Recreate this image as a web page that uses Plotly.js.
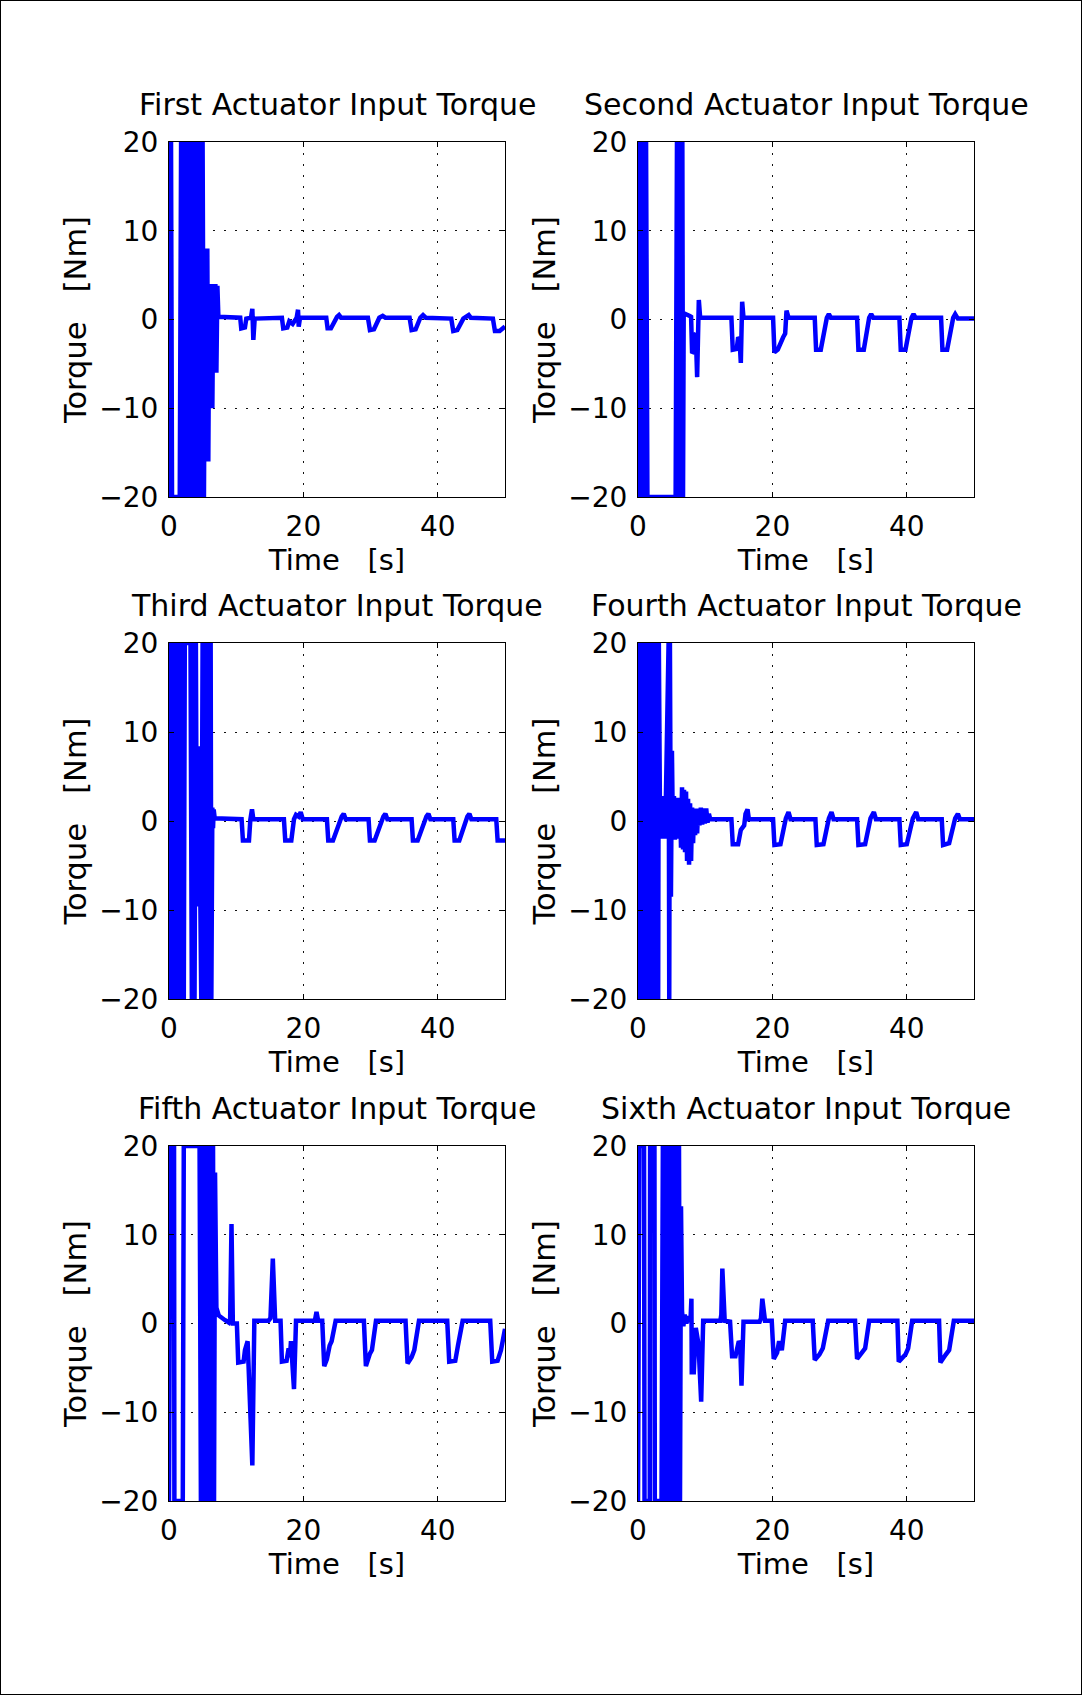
<!DOCTYPE html>
<html><head><meta charset="utf-8">
<script src="https://cdn.plot.ly/plotly-3.0.1.min.js"></script>
<style>html,body{margin:0;padding:0;background:#fff}#chart{width:1082px;height:1695px}</style>
</head><body><div id="chart"></div>
<script>
// ---- data (time in s, torque in Nm) ----
const t1 = [0,0.15,0.3,0.45,1.6,1.8,2.0,2.2,2.4,2.6,2.8,3.0,3.2,3.4,3.6,3.8,4.0,4.2,4.4,4.6,4.8,5.0,5.2,5.4,5.55,5.7,5.85,6.0,6.15,6.3,6.45,6.6,6.75,6.9,7.05,7.2,7.35,10.6,10.75,11.3,11.5,12.2,12.4,12.55,12.75,16.8,17.0,17.6,17.9,18.4,19.0,19.2,19.3,19.5,23.4,23.6,24.1,25.0,25.3,25.6,29.6,29.9,30.5,31.3,31.8,32.2,35.8,36.1,36.7,37.4,37.8,38.2,42.0,42.3,42.9,43.8,44.6,44.9,48.2,48.5,49.2,50];
const q1 = [20,-20,20,-20,-20,20,-20,20,-20,20,-20,20,-20,20,-20,20,-20,20,-20,20,-20,20,-20,8,-16,8,-16,4,-10,4,-10,4,-6,4,-6,3.8,0.3,0.2,-1.0,-0.9,0.1,0.2,1.2,-2.3,0.1,0.2,-1.0,-0.9,-0.2,-0.5,0.2,1.1,-0.8,0.2,0.2,-1.0,-1.0,0.3,0.5,0.2,0.2,-1.2,-1.1,0.2,0.4,0.2,0.2,-1.2,-1.1,0.2,0.5,0.2,0.1,-1.3,-1.2,0.1,0.5,0.2,0.1,-1.3,-1.3,-0.8];

const t2 = [0,0.2,0.4,0.6,0.8,1.0,1.2,1.4,5.6,5.8,6.0,6.2,6.4,6.6,6.7,6.8,7.7,7.9,8.05,8.3,8.45,8.6,8.8,9.05,9.25,13.9,14.1,14.7,14.9,15.1,15.3,15.5,15.7,20.1,20.3,20.8,21.6,21.9,22.1,22.4,26.3,26.5,27.2,28.1,28.4,28.7,32.6,32.8,33.6,34.4,34.7,35.0,38.9,39.1,39.8,40.7,41.0,41.3,45.1,45.3,46.0,46.9,47.2,47.6,50];
const q2 = [20,-20,20,-20,20,-20,20,-20,-20,20,-20,20,-20,20,-20,0.7,0.4,0.3,-3.8,-3.6,-1.7,-1.6,-6.5,2.2,0.2,0.2,-3.4,-3.3,-2.0,-2.2,-4.9,2.0,0.2,0.2,-3.7,-3.4,-2.0,-1.6,1.0,0.2,0.2,-3.4,-3.4,0.2,0.6,0.2,0.2,-3.4,-3.4,0.2,0.6,0.2,0.2,-3.4,-3.4,0.2,0.6,0.2,0.2,-3.4,-3.4,0.2,0.6,0.1,0.1];

const t3 = [0,0.2,0.4,0.6,0.8,1.0,1.2,1.4,1.6,1.8,2.0,2.2,2.35,3.2,3.4,3.6,3.8,4.0,4.15,4.45,4.8,5.0,5.2,5.4,5.6,5.8,6.0,6.2,6.3,6.45,6.55,6.65,6.8,10.8,11.0,11.9,12.1,12.35,12.55,12.7,17.1,17.3,18.2,18.6,18.9,19.3,19.6,19.9,23.5,23.7,24.4,25.7,26.0,26.3,29.7,29.9,30.6,31.9,32.2,32.5,36.1,36.3,37.0,38.3,38.6,38.9,42.3,42.5,43.2,44.4,44.7,45.0,48.7,48.9,50];
const q3 = [20,-20,20,-20,20,-20,20,-20,20,-20,20,-20,20,20,-20,20,-20,20,-9.6,8.4,-20,20,-20,20,-20,20,-20,20,-20,1.5,-0.8,1.3,0.3,0.2,-2.2,-2.2,0.1,1.3,0.2,0.2,0.2,-2.2,-2.2,0.2,0.7,0.5,1.0,0.2,0.2,-2.2,-2.2,0.5,0.8,0.2,0.2,-2.2,-2.2,0.5,0.8,0.2,0.2,-2.2,-2.2,0.5,0.8,0.2,0.2,-2.2,-2.2,0.5,0.8,0.2,0.2,-2.2,-2.2];

const t4 = [0,0.2,0.4,0.6,0.8,1.0,1.2,1.4,1.6,1.8,2.0,2.2,2.4,2.6,2.8,3.0,3.1,3.25,3.4,3.55,3.7,3.85,4.0,4.15,4.55,4.65,4.75,4.9,5.05,5.2,5.35,5.5,5.65,5.8,5.95,6.1,6.25,6.4,6.55,6.7,6.85,7.0,7.15,7.3,7.45,7.6,7.75,7.9,8.05,8.2,8.35,8.5,8.65,8.8,8.95,9.15,9.35,9.55,9.75,9.95,10.15,10.35,10.55,10.75,13.9,14.1,14.9,15.3,15.8,16.0,16.3,16.5,20.1,20.3,21.2,22.0,22.4,22.7,26.4,26.6,27.6,28.4,28.8,29.1,32.6,32.8,33.8,34.6,35.1,35.4,38.9,39.1,40.0,40.9,41.4,41.7,45.2,45.4,46.3,47.2,47.6,47.9,50];
const q4 = [20,-20,20,-20,20,-20,20,-20,20,-20,20,-20,20,-20,20,-20,20,2.8,-2.0,2.6,-1.8,2.8,-2.0,2.6,20,-20,20,-8.5,7.9,-2.0,2.8,-2.1,2.5,-2.0,2.6,-1.5,2.0,-3.0,3.8,-3.2,3.5,-3.5,3.3,-4.5,2.5,-4.9,2.0,-4.5,1.5,-2.5,1.4,-1.6,1.2,-1.4,1.4,-0.5,1.5,-0.4,1.4,-0.3,1.4,-0.2,0.8,0.2,0.2,-2.6,-2.6,-1.0,-0.5,0.8,1.3,0.2,0.2,-2.7,-2.6,0.3,1.0,0.2,0.2,-2.7,-2.6,0.3,1.0,0.2,0.2,-2.7,-2.6,0.3,1.0,0.2,0.2,-2.7,-2.6,0.3,1.0,0.2,0.2,-2.7,-2.5,0.3,0.8,0.2,0.2];

const t5 = [0,0.2,0.75,0.8,2.05,2.2,4.55,4.75,4.95,5.15,5.35,5.55,5.75,5.95,6.15,6.35,6.55,6.7,6.85,7.05,7.4,8.3,8.9,9.1,9.3,9.5,10.1,10.3,11.1,11.3,11.7,12.4,12.7,14.8,15.1,15.45,15.8,16.6,16.8,17.5,17.8,18.0,18.15,18.6,18.9,21.7,21.95,22.2,22.8,23.1,23.5,23.9,24.2,24.8,29.0,29.3,29.9,30.2,30.8,35.2,35.5,36.1,36.5,37.2,41.4,41.7,42.6,43.0,43.7,47.8,48.1,48.9,49.4,50];
const q5 = [-20,20,20,-20,-20,20,20,-20,20,-20,20,-20,20,-20,20,-20,20,-20,17,1.8,0.9,0.4,0.1,0.5,11.2,0.0,0.0,-4.4,-4.3,-3.0,-2.0,-16.0,0.3,0.3,0.6,7.3,0.3,0.3,-4.3,-4.2,-2.8,-3.8,-2.0,-7.4,0.3,0.3,1.3,0.3,0.3,-4.8,-4.0,-2.5,-2.0,0.3,0.3,-4.8,-3.4,-3.0,0.3,0.3,-4.5,-3.8,-3.0,0.3,0.3,-4.3,-4.2,-2.5,0.3,0.3,-4.3,-4.2,-3.0,-0.6];

const t6 = [0,0.2,0.9,0.97,1.75,1.8,2.45,2.5,3.5,3.7,3.9,4.1,4.3,4.5,4.7,4.9,5.1,5.3,5.5,5.7,5.9,6.1,6.25,6.4,6.55,6.75,6.95,7.2,7.5,7.8,7.95,8.0,8.3,8.6,9.0,9.4,9.7,12.25,12.4,12.55,12.9,13.7,14.0,14.5,15.0,15.2,15.4,15.7,18.1,18.3,18.5,18.9,19.9,20.2,20.7,21.0,21.4,21.9,26.0,26.3,27.0,27.5,28.3,32.3,32.6,33.4,33.8,34.4,38.6,38.8,39.8,40.2,40.8,44.8,45.0,45.8,46.3,47.0,50];
const q6 = [-20,20,20,-20,-20,20,20,-20,-20,20,-20,20,-20,20,-20,20,-20,20,-20,20,-20,20,-20,13.2,1.4,-0.3,1.0,0.0,0.8,0.2,2.8,-5.5,-5.5,-0.5,-2.3,-8.8,0.3,0.3,1.0,6.2,0.3,0.2,-3.7,-3.7,-2.0,-2.2,-7.0,0.2,0.2,0.6,2.8,0.3,0.3,-4.0,-3.3,-2.0,-3.0,0.3,0.3,-4.1,-3.5,-2.8,0.3,0.3,-4.0,-3.2,-2.8,0.3,0.3,-4.3,-3.5,-2.8,0.3,0.3,-4.4,-3.5,-3.0,0.3,0.3];

const titles = ['First Actuator Input Torque','Second Actuator Input Torque','Third Actuator Input Torque','Fourth Actuator Input Torque','Fifth Actuator Input Torque','Sixth Actuator Input Torque'];
const xTickVals = [0, 20, 40];
const yTickVals = [-20, -10, 0, 10, 20];
const xLabel = 'Time\u00a0\u00a0\u00a0[s]';
const yLabel = 'Torque\u00a0\u00a0\u00a0[Nm]';
const series = [[t1,q1],[t2,q2],[t3,q3],[t4,q4],[t5,q5],[t6,q6]];

// ---- layout ----
const FONT = 'DejaVu Sans';
const colDomains = [[169/1082, 505/1082], [638/1082, 974/1082]];
const rowDomains = [[1-497/1695, 1-142/1695], [1-999/1695, 1-643/1695], [1-1501/1695, 1-1146/1695]];

const data = [];
const layout = {
  width: 1082, height: 1695,
  margin: {l:0, r:0, t:0, b:0},
  paper_bgcolor: '#fff', plot_bgcolor: '#fff',
  showlegend: false,
  font: {family: FONT, size: 28, color: '#000'},
  annotations: [],
  shapes: [{type:'rect', xref:'paper', yref:'paper', x0:0, x1:1, y0:0, y1:1, line:{color:'#000', width:2}}]
};

series.forEach(([t, q], i) => {
  const n = i + 1;
  const sfx = n === 1 ? '' : String(n);
  const col = i % 2, row = Math.floor(i / 2);
  data.push({
    x: t, y: q, xaxis: 'x' + sfx, yaxis: 'y' + sfx,
    type: 'scatter', mode: 'lines',
    line: {color: 'rgb(0,0,255)', width: 4.5, simplify: false},
    hoverinfo: 'skip'
  });
  const common = {
    showline: true, linecolor: '#000', linewidth: 1, mirror: 'ticks',
    ticks: 'inside', ticklen: 5, tickcolor: '#000', tickwidth: 1,
    showgrid: true, gridcolor: '#111', griddash: '2px,9px', gridwidth: 1,
    zeroline: false, layer: 'above traces', fixedrange: true,
    tickfont: {family: FONT, size: 28, color: '#000'}
  };
  layout['xaxis' + sfx] = Object.assign({}, common, {
    domain: colDomains[col], range: [0, 50], autorange: false,
    tickmode: 'array', tickvals: xTickVals, anchor: 'y' + sfx,
    ticklabelstandoff: 4,
    title: {text: xLabel, font: {family: FONT, size: 29, color: '#000'}, standoff: 1}
  });
  layout['yaxis' + sfx] = Object.assign({}, common, {
    domain: rowDomains[row], range: [-20, 20], autorange: false,
    tickmode: 'array', tickvals: yTickVals, anchor: 'x' + sfx,
    ticklabelstandoff: 4,
    title: {text: yLabel, font: {family: FONT, size: 30.5, color: '#000'}, standoff: 3}
  });
  layout.annotations.push({
    text: titles[i], xref: 'paper', yref: 'paper',
    x: (colDomains[col][0] + colDomains[col][1]) / 2, y: rowDomains[row][1],
    xanchor: 'center', yanchor: 'bottom', yshift: 18, showarrow: false,
    font: {family: FONT, size: 30, color: '#000'}
  });
});

Plotly.newPlot('chart', data, layout, {staticPlot: true, displayModeBar: false});
</script></body></html>
